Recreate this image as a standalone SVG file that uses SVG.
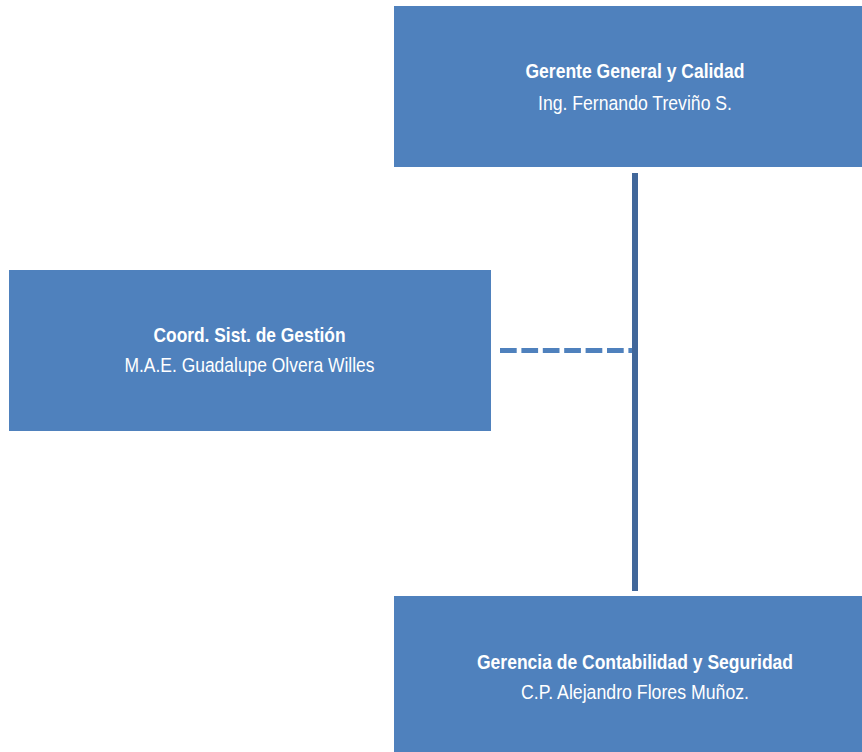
<svg xmlns="http://www.w3.org/2000/svg" width="862" height="752" viewBox="0 0 862 752">
<style>
.box{fill:#4F81BD;}
.t{font-family:"Liberation Sans",Arial,sans-serif;font-size:20.5px;fill:#FFFFFF;text-anchor:middle;}
.b{font-weight:bold;}
</style>
<rect width="862" height="752" fill="#FFFFFF"/>
<g id="connectors">
<line x1="635" y1="173" x2="635" y2="591" stroke="#41679A" stroke-width="6"/>
<line x1="500" y1="350.5" x2="632" y2="350.5" stroke="#4F81BD" stroke-width="5" stroke-dasharray="16.7 4.7"/>
</g>
<g id="node-gerente">
<rect class="box" x="394" y="6" width="481" height="161"/>
<text class="t b" x="635" y="77.5" textLength="219" lengthAdjust="spacingAndGlyphs">Gerente General y Calidad</text>
<text class="t" x="635" y="109.5" textLength="194" lengthAdjust="spacingAndGlyphs">Ing. Fernando Treviño S.</text>
</g>
<g id="node-coord">
<rect class="box" x="9" y="270" width="482" height="161"/>
<text class="t b" x="249.5" y="342" textLength="192" lengthAdjust="spacingAndGlyphs">Coord. Sist. de Gestión</text>
<text class="t" x="249.5" y="371.5" textLength="250" lengthAdjust="spacingAndGlyphs">M.A.E. Guadalupe Olvera Willes</text>
</g>
<g id="node-contabilidad">
<rect class="box" x="394" y="596" width="481" height="160"/>
<text class="t b" x="635" y="669" textLength="316" lengthAdjust="spacingAndGlyphs">Gerencia de Contabilidad y Seguridad</text>
<text class="t" x="635" y="698.5" textLength="228" lengthAdjust="spacingAndGlyphs">C.P. Alejandro Flores Muñoz.</text>
</g>
</svg>
